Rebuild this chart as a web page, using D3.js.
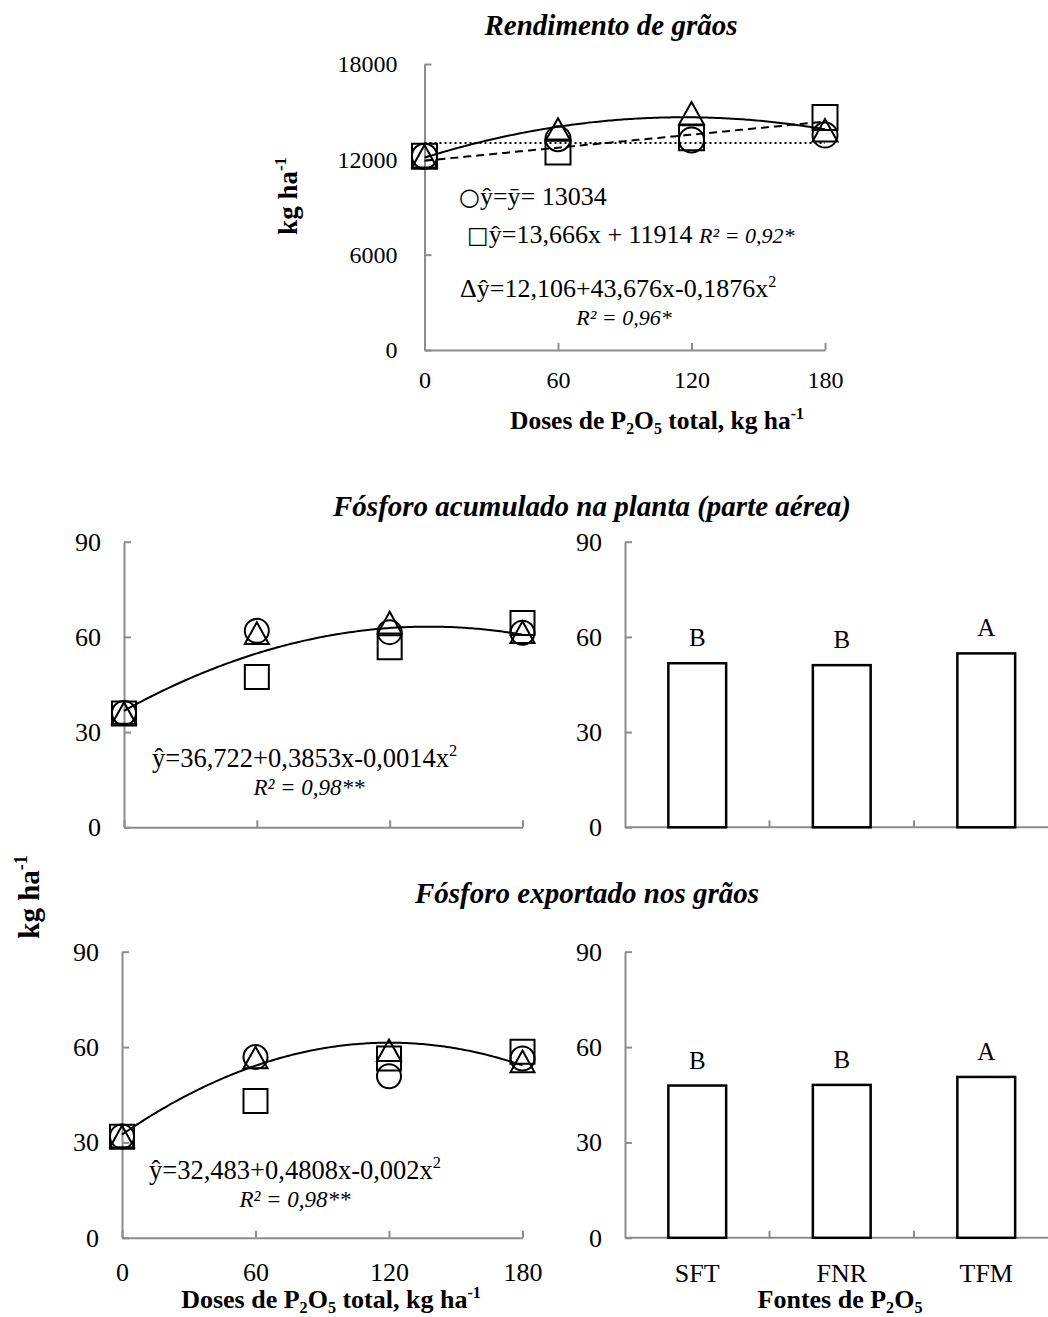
<!DOCTYPE html>
<html>
<head>
<meta charset="utf-8">
<script src="https://cdn.jsdelivr.net/npm/d3@7"></script>
<style>
    body { margin: 0; background: #fff; }
    svg { display: block; font-family: "Liberation Serif", "Times New Roman", serif; }
    .axis path, .axis line { stroke: #8c8c8c; stroke-width: 2; }
    .axis text { fill: #000; }
</style>
</head>
<body>
<svg id="chart" width="1048" height="1317"></svg>
<script>
// doses de P2O5 (kg/ha)
const doses = [0, 60, 120, 180];

// Rendimento de grãos (kg/ha), one array per marker
const rendCircle = [12200, 13300, 13220, 13530];
const rendSquare = [12200, 12460, 13360, 14630];
const rendTriangle = [12200, 13880, 14900, 13830];

// Fósforo acumulado na planta (kg/ha)
const acumCircle = [36.0, 61.9, 61.5, 61.3];
const acumSquare = [35.9, 47.4, 56.7, 64.4];
const acumTriangle = [36.0, 61.2, 64.5, 61.5];

// Fósforo exportado nos grãos (kg/ha)
const expCircle = [31.9, 56.9, 50.8, 56.4];
const expSquare = [31.8, 43.0, 56.4, 58.5];
const expTriangle = [31.9, 56.7, 59.0, 55.5];

// fitted equations shown in the chart (constant, linear, quadratic term)
const rendMean = [13034];
const rendLinear = [11914, 13.666];
const rendQuad = [12106, 43.676, -0.1876];
const acumQuad = [36.722, 0.3853, -0.0014];
const expQuad = [32.483, 0.4808, -0.002];

// fontes de P2O5
const fontes = ["SFT", "FNR", "TFM"];
const acumFontes = [51.7, 51.1, 54.8];
const expFontes = [47.9, 48.1, 50.6];
const acumLetters = ["B", "B", "A"];
const expLetters = ["B", "B", "A"];

const yieldTicks = [0, 6000, 12000, 18000];
const pTicks = [0, 30, 60, 90];

const svg = d3.select("#chart");
svg.append("rect").attr("width", 1048).attr("height", 1317).attr("fill", "#fff");

// markers drawn as outlines, size = box width
const markCircle = { draw(c, s) { c.moveTo(s / 2, 0); c.arc(0, 0, s / 2, 0, 2 * Math.PI); } };
const markSquare = { draw(c, s) { c.rect(-s / 2, -s / 2, s, s); } };
const markTriangle = { draw(c, s) {
    const h = s * 0.9;
    c.moveTo(0, -h / 2); c.lineTo(s / 2, h / 2); c.lineTo(-s / 2, h / 2); c.closePath();
} };

function poly(coefs) {
    return x => coefs.reduce((acc, c, i) => acc + c * Math.pow(x, i), 0);
}

// text with sub/superscripts and mixed styles
function rich(parent, x, y, parts, opts) {
    const t = parent.append("text")
        .attr("x", x).attr("y", y)
        .attr("font-size", opts.size)
        .attr("text-anchor", opts.anchor || "start")
        .attr("font-weight", opts.bold ? "bold" : null)
        .attr("font-style", opts.italic ? "italic" : null);
    if (opts.transform) t.attr("transform", opts.transform);
    let shift = 0;
    parts.forEach(p => {
        if (typeof p === "string") p = { t: p };
        const span = t.append("tspan").text(p.t);
        let target = 0;
        if (p.sub) { target = opts.size * 0.2; span.attr("font-size", opts.size * 0.62); }
        else if (p.sup) { target = -opts.size * 0.4; span.attr("font-size", opts.size * 0.62); }
        else if (p.size) span.attr("font-size", p.size);
        if (p.it) span.attr("font-style", "italic");
        if (p.font) span.attr("font-family", p.font);
        if (target - shift !== 0) span.attr("dy", target - shift);
        shift = target;
    });
    return t;
}

function styleAxis(a, size) {
    a.attr("font-family", null).attr("font-size", size);
}

function yAxis(g, y, x0, ticks, size, pad) {
    g.append("g").attr("class", "axis").attr("transform", `translate(${x0},0)`)
        .call(d3.axisLeft(y).tickValues(ticks).tickSizeInner(-7).tickSizeOuter(0)
            .tickPadding(pad).tickFormat(d3.format("d")))
        .call(a => styleAxis(a, size));
}

function scatterPanel(cfg) {
    const x = d3.scaleLinear().domain([0, 180]).range(cfg.xr);
    const y = d3.scaleLinear().domain(cfg.yd).range(cfg.yr);
    const g = svg.append("g");

    yAxis(g, y, cfg.xr[0], cfg.yTicks, cfg.tickSize, cfg.yPad);
    const xa = g.append("g").attr("class", "axis").attr("transform", `translate(0,${cfg.yr[0]})`)
        .call(d3.axisBottom(x).tickValues(doses).tickSizeInner(-7).tickSizeOuter(0).tickPadding(cfg.xPad))
        .call(a => styleAxis(a, cfg.tickSize));
    if (!cfg.xLabels) xa.selectAll("text").remove();

    const xs = d3.range(0, 180.01, 1);
    cfg.fits.forEach(f => {
        const fn = poly(f.coefs);
        g.append("path")
            .attr("d", d3.line().x(d => x(d)).y(d => y(fn(d)))(xs))
            .attr("fill", "none").attr("stroke", "#000").attr("stroke-width", 2)
            .attr("stroke-dasharray", f.dash || null);
    });

    const series = [
        { vals: cfg.square, type: markSquare },
        { vals: cfg.circle, type: markCircle },
        { vals: cfg.triangle, type: markTriangle }
    ];
    series.forEach(s => {
        g.append("g").selectAll("path")
            .data(s.vals)
            .enter()
            .append("path")
            .attr("transform", (d, i) => `translate(${x(doses[i])},${y(d)})`)
            .attr("d", d3.symbol().type(s.type).size(cfg.markSize))
            .attr("fill", "none").attr("stroke", "#000").attr("stroke-width", 2);
    });
    return g;
}

function barPanel(cfg) {
    const x = d3.scaleBand().domain(fontes).range(cfg.xr).paddingInner(0.6).paddingOuter(0.3);
    const y = d3.scaleLinear().domain([0, 90]).range(cfg.yr);
    const g = svg.append("g");

    yAxis(g, y, cfg.xr[0], pTicks, cfg.tickSize, cfg.yPad);
    const xa = g.append("g").attr("class", "axis");
    xa.append("line")
        .attr("x1", cfg.xr[0]).attr("x2", cfg.xr[1])
        .attr("y1", cfg.yr[0]).attr("y2", cfg.yr[0]);
    xa.selectAll(".sep")
        .data(fontes.slice(1))
        .enter()
        .append("line")
        .attr("x1", d => x(d) - x.step() * x.paddingInner() / 2)
        .attr("x2", d => x(d) - x.step() * x.paddingInner() / 2)
        .attr("y1", cfg.yr[0]).attr("y2", cfg.yr[0] - 7);

    g.selectAll(".bar")
        .data(cfg.values)
        .enter()
        .append("rect")
        .attr("x", (d, i) => x(fontes[i]))
        .attr("y", d => y(d))
        .attr("width", x.bandwidth())
        .attr("height", d => y(0) - y(d))
        .attr("fill", "#fff").attr("stroke", "#000").attr("stroke-width", 2.5);

    g.selectAll(".letter")
        .data(cfg.values)
        .enter()
        .append("text")
        .attr("x", (d, i) => x(fontes[i]) + x.bandwidth() / 2)
        .attr("y", d => y(d) - 17)
        .attr("text-anchor", "middle")
        .attr("font-size", 25)
        .text((d, i) => cfg.letters[i]);

    if (cfg.catLabels) {
        g.selectAll(".cat")
            .data(fontes)
            .enter()
            .append("text")
            .attr("x", d => x(d) + x.bandwidth() / 2)
            .attr("y", cfg.yr[0] + 44)
            .attr("text-anchor", "middle")
            .attr("font-size", cfg.tickSize)
            .text(d => d);
    }
}

// ---- Rendimento de grãos
rich(svg, 611, 35, ["Rendimento de grãos"], { size: 29, bold: true, italic: true, anchor: "middle" });
const yieldPanel = scatterPanel({
    xr: [424.5, 825], yr: [350, 64], yd: [0, 18000], yTicks: yieldTicks,
    tickSize: 24, yPad: 27, xPad: 21, xLabels: true, markSize: 25,
    circle: rendCircle, square: rendSquare, triangle: rendTriangle,
    fits: [
        { coefs: rendMean, dash: "2,3" },
        { coefs: rendLinear, dash: "8,5" },
        { coefs: rendQuad }
    ]
});
rich(yieldPanel, 459, 205, [{ t: "○", font: "DejaVu Sans", size: 24 }, "ŷ=ȳ= 13034"], { size: 26 });
rich(yieldPanel, 467, 243, [{ t: "□", font: "DejaVu Sans", size: 23 }, "ŷ=13,666x + 11914 ",
    { t: "R² = 0,92*", it: true, size: 22 }], { size: 26 });
rich(yieldPanel, 460, 297, ["Δŷ=12,106+43,676x-0,1876x", { t: "2", sup: true }], { size: 26 });
rich(yieldPanel, 624, 325, ["R² = 0,96*"], { size: 22, italic: true, anchor: "middle" });
rich(svg, 297, 196, ["kg ha", { t: "-1", sup: true }],
    { size: 27, bold: true, anchor: "middle", transform: "rotate(-90,297,196)" });
rich(svg, 657, 429, ["Doses de P", { t: "2", sub: true }, "O", { t: "5", sub: true }, " total, kg ha", { t: "-1", sup: true }],
    { size: 25.5, bold: true, anchor: "middle" });

// ---- Fósforo acumulado na planta
rich(svg, 592, 516, ["Fósforo acumulado na planta (parte aérea)"], { size: 29, bold: true, italic: true, anchor: "middle" });
const acumPanel = scatterPanel({
    xr: [124, 522.5], yr: [827.3, 541.7], yd: [0, 90], yTicks: pTicks,
    tickSize: 26, yPad: 23, xPad: 25, xLabels: false, markSize: 24,
    circle: acumCircle, square: acumSquare, triangle: acumTriangle,
    fits: [{ coefs: acumQuad }]
});
rich(acumPanel, 152, 767, ["ŷ=36,722+0,3853x-0,0014x", { t: "2", sup: true }], { size: 26.5 });
rich(acumPanel, 309, 795, ["R² = 0,98**"], { size: 23, italic: true, anchor: "middle" });
barPanel({ xr: [625, 1058.5], yr: [827.3, 541.7], tickSize: 26, yPad: 23,
    values: acumFontes, letters: acumLetters, catLabels: false });

// shared y label
rich(svg, 39, 897, ["kg ha", { t: "-1", sup: true }],
    { size: 29, bold: true, anchor: "middle", transform: "rotate(-90,39,897)" });

// ---- Fósforo exportado nos grãos
rich(svg, 587, 903, ["Fósforo exportado nos grãos"], { size: 29, bold: true, italic: true, anchor: "middle" });
const expPanel = scatterPanel({
    xr: [122, 522.5], yr: [1237.8, 951.7], yd: [0, 90], yTicks: pTicks,
    tickSize: 26, yPad: 23, xPad: 25, xLabels: true, markSize: 24,
    circle: expCircle, square: expSquare, triangle: expTriangle,
    fits: [{ coefs: expQuad }]
});
rich(expPanel, 149, 1179, ["ŷ=32,483+0,4808x-0,002x", { t: "2", sup: true }], { size: 26.5 });
rich(expPanel, 295, 1207, ["R² = 0,98**"], { size: 23, italic: true, anchor: "middle" });
barPanel({ xr: [625, 1058.5], yr: [1237.8, 951.7], tickSize: 26, yPad: 23,
    values: expFontes, letters: expLetters, catLabels: true });

rich(svg, 331, 1308, ["Doses de P", { t: "2", sub: true }, "O", { t: "5", sub: true }, " total, kg ha", { t: "-1", sup: true }],
    { size: 26, bold: true, anchor: "middle" });
rich(svg, 840, 1308, ["Fontes de P", { t: "2", sub: true }, "O", { t: "5", sub: true }],
    { size: 26, bold: true, anchor: "middle" });
</script>
</body>
</html>
